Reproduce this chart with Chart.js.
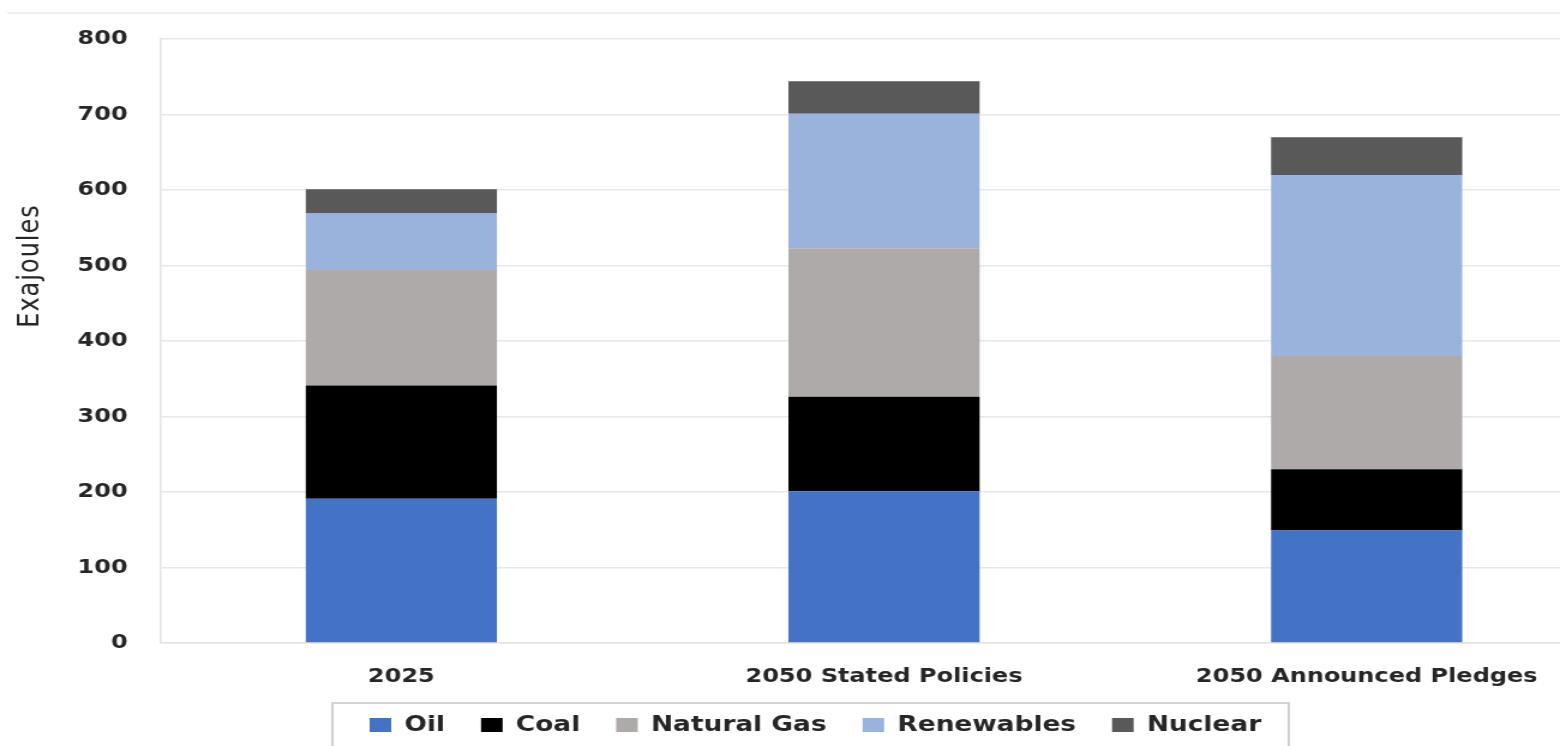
<!DOCTYPE html>
<html>
<head>
<meta charset="utf-8">
<script src="https://cdn.jsdelivr.net/npm/chart.js@4.4.1/dist/chart.umd.min.js"></script>
<style>
  html, body { margin:0; padding:0; background:#ffffff; overflow:hidden; width:1560px; height:746px; }
  #wrap { position:absolute; left:0; top:0; width:1340px; height:746px; transform:scaleX(1.2); transform-origin:0 0; }
</style>
</head>
<body>
<div id="wrap"><canvas id="c"></canvas></div>
<script>
const categories = ['2025', '2050 Stated Policies', '2050 Announced Pledges'];
const oil = [191, 201, 149];
const coal = [150, 125, 81];
const naturalGas = [153, 197, 150];
const renewables = [75, 178, 240];
const nuclear = [32, 43, 50];
const yTicks = [0, 100, 200, 300, 400, 500, 600, 700, 800];
const yTitle = 'Exajoules';

const decor = {
  id: 'decor',
  afterDraw(chart) {
    const ctx = chart.ctx;
    ctx.save();
    // faint outer border line at top
    ctx.strokeStyle = '#efefef';
    ctx.lineWidth = 2;
    ctx.beginPath();
    ctx.moveTo(6, 13);
    ctx.lineTo(chart.width, 13);
    ctx.stroke();
    // y-axis title
    ctx.fillStyle = '#262626';
    ctx.font = '24px "DejaVu Sans"';
    ctx.textAlign = 'center';
    ctx.textBaseline = 'middle';
    ctx.translate(26, 266);
    ctx.rotate(-Math.PI / 2);
    try { ctx.letterSpacing = '1px'; } catch (e) {}
    ctx.fillText(yTitle, 0, 0);
    ctx.restore();
    // legend border
    const hb = chart.legend && chart.legend.legendHitBoxes;
    if (hb && hb.length) {
      const first = hb[0], last = hb[hb.length - 1];
      const l = first.left - 31, r = last.left + last.width + 23;
      ctx.save();
      ctx.strokeStyle = '#c4c4c4';
      ctx.lineWidth = 1.6;
      ctx.beginPath();
      ctx.moveTo(l, 760);
      ctx.lineTo(l, 703);
      ctx.lineTo(r, 703);
      ctx.lineTo(r, 760);
      ctx.stroke();
      ctx.restore();
    }
  }
};

new Chart(document.getElementById('c'), {
  type: 'bar',
  data: {
    labels: categories,
    datasets: [
      { label: 'Oil', data: oil, backgroundColor: '#4472C4' },
      { label: 'Coal', data: coal, backgroundColor: '#000000' },
      { label: 'Natural Gas', data: naturalGas, backgroundColor: '#AEAAAA' },
      { label: 'Renewables', data: renewables, backgroundColor: '#9AB3DD' },
      { label: 'Nuclear', data: nuclear, backgroundColor: '#595959' }
    ]
  },
  options: {
    responsive: true,
    maintainAspectRatio: false,
    animation: false,
    devicePixelRatio: 1,
    datasets: { bar: { barPercentage: 0.396, categoryPercentage: 1.0 } },
    layout: { padding: { top: 38, left: 19, right: 0, bottom: 0 } },
    plugins: {
      tooltip: { enabled: false },
      legend: {
        position: 'bottom',
        labels: {
          boxWidth: 18,
          boxHeight: 14,
          padding: 30,
          color: '#262626',
          font: { family: '"DejaVu Sans"', size: 22, weight: 'bold' }
        }
      }
    },
    scales: {
      x: {
        stacked: true,
        grid: { display: false, drawTicks: false },
        border: { display: true, color: '#e4e4e4', width: 1.5 },
        ticks: {
          color: '#262626',
          padding: 22,
          maxRotation: 0,
          autoSkip: false,
          font: { family: '"DejaVu Sans"', size: 20, weight: 'bold' }
        },
        afterFit(scale) {
          scale.height = 41;
          scale._computeLabelArea = function () { return undefined; };
        }
      },
      y: {
        stacked: true,
        min: 0,
        max: 800,
        afterBuildTicks(scale) { scale.ticks = yTicks.map(v => ({ value: v })); },
        grid: { color: '#e8e8e8', lineWidth: 1.5, drawTicks: false },
        border: { display: true, color: '#e4e4e4', width: 1.5 },
        ticks: {
          color: '#262626',
          padding: 27,
          font: { family: '"DejaVu Sans"', size: 20, weight: 'bold' }
        },
        afterFit(scale) { scale.width = 114.33; }
      }
    }
  },
  plugins: [decor]
});
</script>
</body>
</html>
